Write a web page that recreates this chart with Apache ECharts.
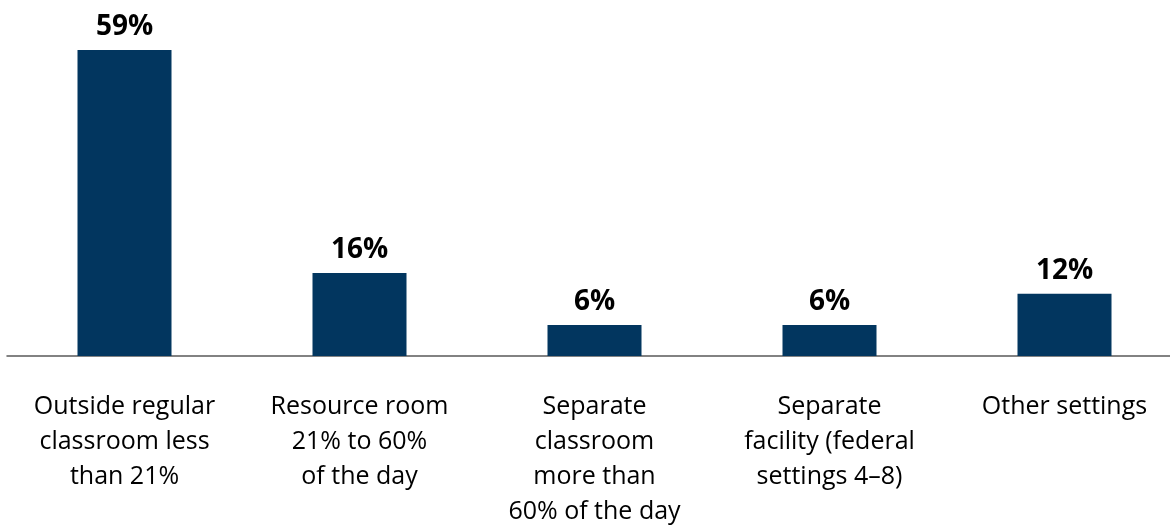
<!DOCTYPE html>
<html>
<head>
<meta charset="utf-8">
<script src="https://cdn.jsdelivr.net/npm/echarts@6/dist/echarts.min.js"></script>
<style>
  html, body { margin: 0; padding: 0; background: #fff; }
  #chart { width: 1170px; height: 529px; }
</style>
</head>
<body>
<div id="chart"></div>
<script>
// Educational settings and the share of students served in each
const categories = [
  'Outside regular\nclassroom less\nthan 21%',
  'Resource room\n21% to 60%\nof the day',
  'Separate\nclassroom\nmore than\n60% of the day',
  'Separate\nfacility (federal\nsettings 4\u20138)',
  'Other settings'
];
const shares = [59, 16, 6, 6, 12];

const FONT = '"Open Sans", Lato, sans-serif';

const chart = echarts.init(document.getElementById('chart'));
chart.setOption({
  animation: false,
  grid: {
    left: 7, top: 50, width: 1175, height: 306,
    containLabel: false,
    outerBoundsMode: 'none'
  },
  xAxis: {
    type: 'category',
    data: categories,
    axisTick: { show: false },
    axisLine: { lineStyle: { color: '#595959', width: 1.5 } },
    axisLabel: {
      interval: 0,
      margin: 33,
      color: '#000',
      fontFamily: FONT,
      fontSize: 25,
      lineHeight: 35
    }
  },
  yAxis: {
    type: 'value',
    min: 0,
    max: 59,
    show: false,
    splitLine: { show: false }
  },
  series: [{
    type: 'bar',
    data: shares,
    barWidth: 94,
    itemStyle: { color: '#02365F' },
    label: {
      show: true,
      position: 'top',
      distance: 9,
      formatter: '{c}%',
      color: '#000',
      fontFamily: FONT,
      fontWeight: 'bold',
      fontSize: 28
    }
  }]
});
</script>
</body>
</html>
